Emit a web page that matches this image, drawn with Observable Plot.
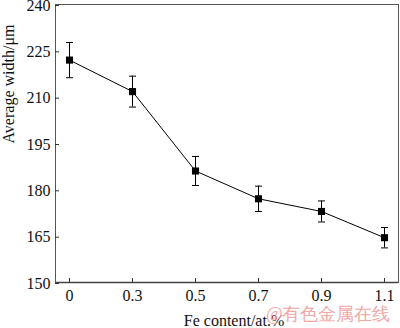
<!DOCTYPE html>
<html>
<head>
<meta charset="utf-8">
<script src="https://cdn.jsdelivr.net/npm/d3@7"></script>
<script src="https://cdn.jsdelivr.net/npm/@observablehq/plot@0.6"></script>
<style>
  html, body { margin: 0; padding: 0; background: #fff; }
  #chart { width: 400px; height: 328px; }
  #chart svg text { font-family: "Liberation Serif", "Times New Roman", serif; }
  #chart svg text.wm { font-family: "Noto Sans CJK SC", sans-serif; }
</style>
</head>
<body>
<div id="chart"></div>
<script>
const feContent = ["0", "0.3", "0.5", "0.7", "0.9", "1.1"];
const avgWidth = [222.0, 211.8, 186.1, 177.1, 173.0, 164.5];
const errWidth = [5.7, 5.0, 4.7, 4.1, 3.4, 3.3];
const yTicks = [150, 165, 180, 195, 210, 225, 240];
const xTitle = "Fe content/at.%";
const yTitle = "Average width/μm";
const watermark = "@有色金属在线";

const data = feContent.map((c, i) => ({c, w: avgWidth[i], lo: avgWidth[i] - errWidth[i], hi: avgWidth[i] + errWidth[i]}));

const capSymbol = {
  draw(ctx, size) {
    const r = Math.sqrt(size / Math.PI);
    ctx.moveTo(-r, 0);
    ctx.lineTo(r, 0);
  }
};

const serif = "'Liberation Serif', 'Times New Roman', serif";

const chart = Plot.plot({
  width: 400,
  height: 328,
  marginLeft: 55,
  marginRight: 2,
  marginTop: 4,
  marginBottom: 46,
  style: {fontFamily: serif, fontSize: "16px", color: "#111", background: "#fff", overflow: "visible"},
  x: {type: "point", domain: feContent, padding: 0.19},
  y: {domain: [150, 240]},
  marks: [
    Plot.frame({stroke: "#555", strokeWidth: 1}),
    Plot.ruleY([150], {stroke: "#444", strokeWidth: 1.5}),
    Plot.axisY({ticks: yTicks, tickSize: -4, tickPadding: 9, stroke: "#333", fontSize: 16, fontFamily: serif, label: null, dy: 1}),
    Plot.axisX({tickSize: -4, tickPadding: 11, stroke: "#333", fontSize: 16, fontFamily: serif, label: null}),
    Plot.text([yTitle], {frameAnchor: "left", dx: -47, rotate: -90, fontSize: 16, fontFamily: serif, fill: "#111"}),
    Plot.text([xTitle], {frameAnchor: "bottom", dx: 7, dy: 43, fontSize: 16, fontFamily: serif, fill: "#111"}),
    Plot.text([watermark], {frameAnchor: "bottom-right", dx: -8, dy: 37, fontSize: 18, fill: "#f2a7a7", fontFamily: "Noto Sans CJK SC", textAnchor: "end", className: "wm"}),
    Plot.line(data, {x: "c", y: "w", stroke: "#000", strokeWidth: 1}),
    Plot.ruleX(data, {x: "c", y1: "lo", y2: "hi", stroke: "#000", strokeWidth: 1}),
    Plot.dot(data, {x: "c", y: "lo", symbol: capSymbol, r: 3.5, stroke: "#000", strokeWidth: 1}),
    Plot.dot(data, {x: "c", y: "hi", symbol: capSymbol, r: 3.5, stroke: "#000", strokeWidth: 1}),
    Plot.dot(data, {x: "c", y: "w", symbol: "square", r: 4, fill: "#000", stroke: "none"})
  ]
});
document.getElementById("chart").appendChild(chart);
</script>
</body>
</html>
